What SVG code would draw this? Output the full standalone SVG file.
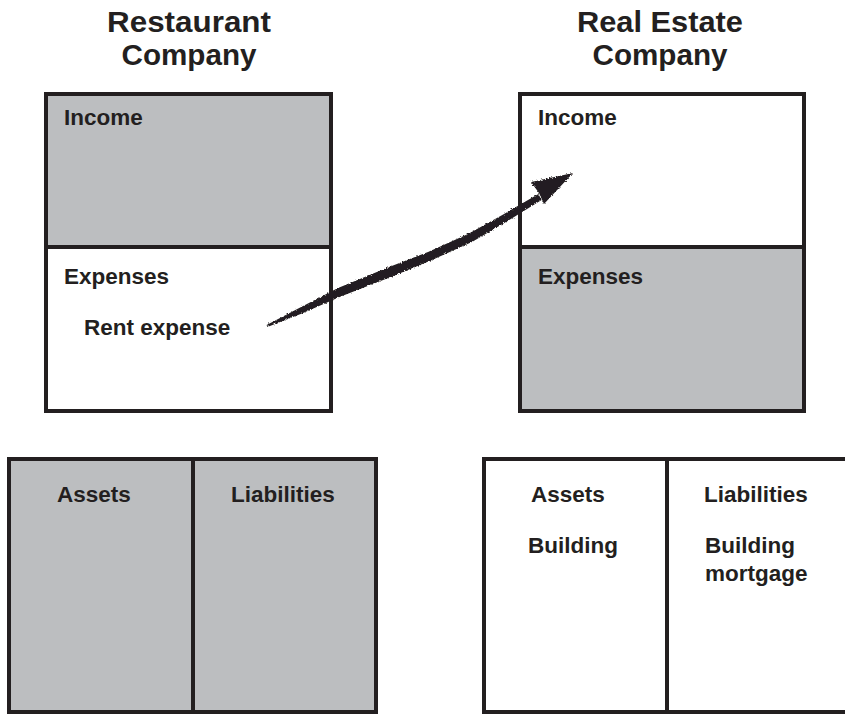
<svg xmlns="http://www.w3.org/2000/svg" width="845" height="717" viewBox="0 0 845 717">
<defs>
<style>
.box{stroke:#231f20;stroke-width:4;}
.gray{fill:#bcbec0;}
.white{fill:#ffffff;}
.ln{stroke:#231f20;stroke-width:4;fill:none;}
.title{font-family:"Liberation Sans",Arial,Helvetica,sans-serif;font-weight:bold;font-size:29px;fill:#231f20;text-anchor:middle;}
.lbl{font-family:"Liberation Sans",Arial,Helvetica,sans-serif;font-weight:bold;font-size:22.5px;fill:#231f20;}
</style>
<filter id="rough" x="-5%" y="-20%" width="110%" height="140%">
<feTurbulence type="fractalNoise" baseFrequency="0.6" numOctaves="2" seed="3" result="n"/>
<feDisplacementMap in="SourceGraphic" in2="n" scale="3" xChannelSelector="R" yChannelSelector="G"/>
</filter>
</defs>
<rect width="845" height="717" fill="#ffffff"/>

<g id="title-restaurant">
<text class="title" x="189" y="32" textLength="164" lengthAdjust="spacingAndGlyphs">Restaurant</text>
<text class="title" x="189" y="64.5" textLength="135" lengthAdjust="spacingAndGlyphs">Company</text>
</g>
<g id="title-realestate">
<text class="title" x="660" y="32" textLength="166" lengthAdjust="spacingAndGlyphs">Real Estate</text>
<text class="title" x="660" y="64.5" textLength="135" lengthAdjust="spacingAndGlyphs">Company</text>
</g>

<g id="restaurant-income-statement">
<rect class="gray" x="46" y="94" width="285" height="153"/>
<rect class="white" x="46" y="247" width="285" height="164"/>
<rect class="box" x="46" y="94" width="285" height="317" fill="none"/>
<line class="ln" x1="46" y1="247" x2="331" y2="247"/>
<text class="lbl" x="64" y="125">Income</text>
<text class="lbl" x="64" y="284">Expenses</text>
<text class="lbl" x="84" y="335">Rent expense</text>
</g>

<g id="realestate-income-statement">
<rect class="white" x="520" y="94" width="284" height="153"/>
<rect class="gray" x="520" y="247" width="284" height="164"/>
<rect class="box" x="520" y="94" width="284" height="317" fill="none"/>
<line class="ln" x1="520" y1="247" x2="804" y2="247"/>
<text class="lbl" x="538" y="125">Income</text>
<text class="lbl" x="538" y="284">Expenses</text>
</g>

<g id="restaurant-balance-sheet">
<rect class="gray box" x="9" y="459" width="367" height="253"/>
<line class="ln" x1="193" y1="459" x2="193" y2="712"/>
<text class="lbl" x="57" y="502">Assets</text>
<text class="lbl" x="231" y="502">Liabilities</text>
</g>

<g id="realestate-balance-sheet">
<rect class="white box" x="484" y="459" width="372" height="253"/>
<line class="ln" x1="667" y1="459" x2="667" y2="712"/>
<text class="lbl" x="531" y="502">Assets</text>
<text class="lbl" x="528" y="553">Building</text>
<text class="lbl" x="704" y="502">Liabilities</text>
<text class="lbl" x="705" y="553">Building</text>
<text class="lbl" x="705" y="581">mortgage</text>
</g>

<g id="connectors">
<g id="rent-arrow" fill="#231f20" filter="url(#rough)">
<path d="M266.6,325.1 L298.7,308.3 L338,288 L387.8,267.5 L428,252 L468,234 L503.2,214.4 L538.4,193.9 L541.6,200.1 L506.8,221.6 L472,242 L432,260 L392.2,276.5 L342,296 L301.3,313.7 L267.4,326.9 Z"/>
<path d="M573,173 L531,182 L539,193 L544,204 Z"/>
</g>
</g>
</svg>
